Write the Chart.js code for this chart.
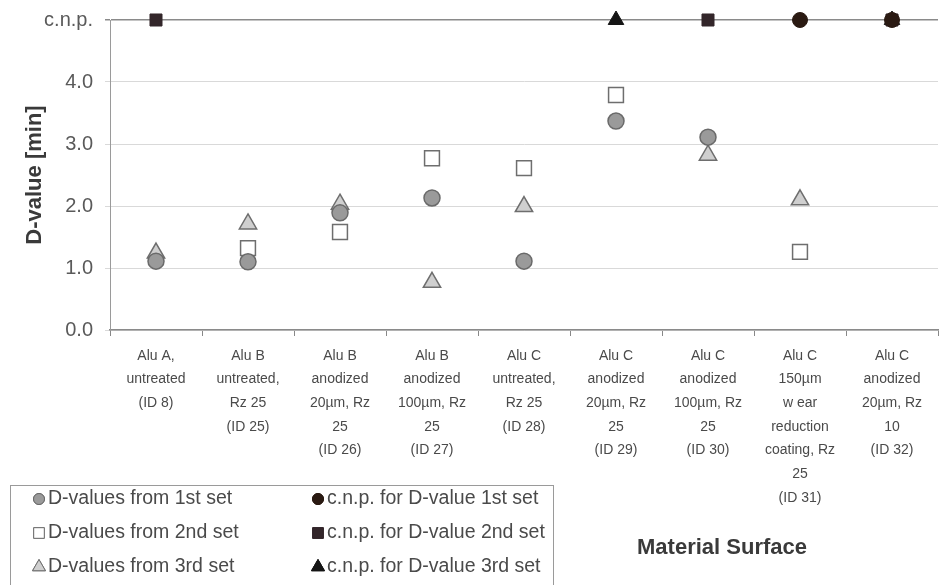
<!DOCTYPE html>
<html>
<head>
<meta charset="utf-8">
<script src="https://cdn.jsdelivr.net/npm/chart.js@4/dist/chart.umd.min.js"></script>
<style>
  html, body { margin: 0; padding: 0; background: #fff; }
  #wrap { width: 939px; height: 585px; position: relative; }
</style>
</head>
<body>
<div id="wrap"><canvas id="c" width="939" height="585"></canvas></div>
<script>
// Surface categories (multi-line tick labels)
const categories = [
  ['Alu A,', 'untreated', '(ID 8)'],
  ['Alu B', 'untreated,', 'Rz 25', '(ID 25)'],
  ['Alu B', 'anodized', '20µm, Rz', '25', '(ID 26)'],
  ['Alu B', 'anodized', '100µm, Rz', '25', '(ID 27)'],
  ['Alu C', 'untreated,', 'Rz 25', '(ID 28)'],
  ['Alu C', 'anodized', '20µm, Rz', '25', '(ID 29)'],
  ['Alu C', 'anodized', '100µm, Rz', '25', '(ID 30)'],
  ['Alu C', '150µm', 'w ear', 'reduction', 'coating, Rz', '25', '(ID 31)'],
  ['Alu C', 'anodized', '20µm, Rz', '10', '(ID 32)']
];

// Level on the axis that stands for "could not be determined" (c.n.p.)
const CNP = 5;
const yTicks = [0, 1, 2, 3, 4, CNP];

// D-values [min] per test set (null = c.n.p.)
const set1 = [1.11, 1.10, 1.89, 2.13, 1.11, 3.37, 3.11, null, null];
const set2 = [null, 1.32, 1.58, 2.77, 2.61, 3.79, null, 1.26, null];
const set3 = [1.24, 1.71, 2.03, 0.77, 1.99, null, 2.82, 2.10, null];

// c.n.p. markers per test set
const cnp1 = [null, null, null, null, null, null, null, CNP, CNP];
const cnp2 = [CNP, null, null, null, null, null, CNP, null, CNP];
const cnp3 = [null, null, null, null, null, CNP, null, null, CNP];

const FONT = "'Liberation Sans', Arial, sans-serif";

function ds(label, data, style, bg, border, radius, bw) {
  return {
    label, data, showLine: false, clip: false,
    pointStyle: style, pointRadius: radius, pointHoverRadius: radius,
    backgroundColor: bg, borderColor: border, pointBorderWidth: bw
  };
}

const datasets = [
  ds('D-values from 1st set', set1, 'circle', '#9a9a9a', '#6a6a6a', 8, 1.5),
  ds('D-values from 2nd set', set2, 'rect', '#ffffff', '#6e6e6e', 10.5, 1.5),
  ds('D-values from 3rd set', set3, 'triangle', '#cfcfcf', '#6e6e6e', 10, 1.5),
  ds('c.n.p. for D-value 1st set', cnp1, 'circle', '#2a1a12', '#2a1a12', 7.5, 1),
  ds('c.n.p. for D-value 2nd set', cnp2, 'rect', '#33262a', '#33262a', 8.5, 1),
  ds('c.n.p. for D-value 3rd set', cnp3, 'triangle', '#151515', '#151515', 9, 1)
];

// Boxed legend in the lower left plus the x-axis caption
const extras = {
  id: 'extras',
  afterDraw(chart) {
    const ctx = chart.ctx;
    ctx.save();
    // caption
    ctx.font = "bold 22px " + FONT;
    ctx.fillStyle = '#3a3a3a';
    ctx.textAlign = 'center';
    ctx.textBaseline = 'middle';
    ctx.fillText('Material Surface', 722, 548);

    // legend box
    ctx.strokeStyle = '#9a9a9a';
    ctx.lineWidth = 1;
    ctx.strokeRect(10.5, 485.5, 543, 110);

    const cols = [39, 318];
    const rows = [499, 533, 567];
    const legendMarks = [
      {style: 'circle', r: 5.5}, {style: 'rect', r: 7.5}, {style: 'triangle', r: 7.5},
      {style: 'circle', r: 5.5}, {style: 'rect', r: 7.5}, {style: 'triangle', r: 7.5}
    ];
    chart.data.datasets.forEach((d, i) => {
      const col = Math.floor(i / 3), row = i % 3;
      const x = cols[col], y = rows[row];
      ctx.fillStyle = d.backgroundColor;
      ctx.strokeStyle = d.borderColor;
      ctx.lineWidth = 1;
      Chart.helpers.drawPoint(ctx, {pointStyle: legendMarks[i].style, radius: legendMarks[i].r, borderWidth: 1}, x, y);
      ctx.fill();
      ctx.stroke();
      ctx.font = "19.5px " + FONT;
      ctx.fillStyle = '#4a4a4a';
      ctx.textAlign = 'left';
      ctx.textBaseline = 'middle';
      ctx.fillText(d.label, x + 9, y);
    });
    ctx.restore();
  }
};

new Chart(document.getElementById('c'), {
  type: 'line',
  data: { labels: categories, datasets },
  options: {
    responsive: false,
    animation: false,
    layout: { autoPadding: false, padding: { top: 20, right: 1, left: 22, bottom: 0 } },
    plugins: { legend: { display: false }, tooltip: { enabled: false } },
    scales: {
      x: {
        offset: true,
        grid: { offset: true, drawOnChartArea: false, tickLength: 6, color: '#888' },
        border: { color: '#8a8a8a', width: 1.5 },
        ticks: {
          autoSkip: false, maxRotation: 0, minRotation: 0, padding: 8,
          color: '#4a4a4a',
          font: { family: FONT, size: 14, lineHeight: 1.69 }
        },
        afterFit(scale) {
          scale.height = 255;
          scale.paddingLeft = 0;
          scale.paddingRight = 0;
        }
      },
      y: {
        min: 0, max: CNP,
        afterBuildTicks(scale) { scale.ticks = yTicks.map(v => ({ value: v })); },
        grid: {
          color: ctx => ctx.tick && ctx.tick.value === CNP ? '#8a8a8a' : '#d9d9d9',
          lineWidth: ctx => ctx.tick && ctx.tick.value === CNP ? 1.5 : 1,
          tickLength: 5
        },
        border: { color: '#9a9a9a', width: 1 },
        ticks: {
          color: '#5a5a5a', padding: 12,
          font: { family: FONT, size: 20 },
          callback: v => v === CNP ? 'c.n.p.' : Number(v).toFixed(1)
        },
        title: {
          display: true, text: 'D-value [min]', color: '#3a3a3a',
          font: { family: FONT, size: 22, weight: 'bold' }, padding: { top: 0, bottom: 0 }
        },
        afterFit(scale) {
          scale.width = 88;
          scale.paddingTop = 0;
          scale.paddingBottom = 0;
        }
      }
    }
  },
  plugins: [extras]
});
</script>
</body>
</html>
